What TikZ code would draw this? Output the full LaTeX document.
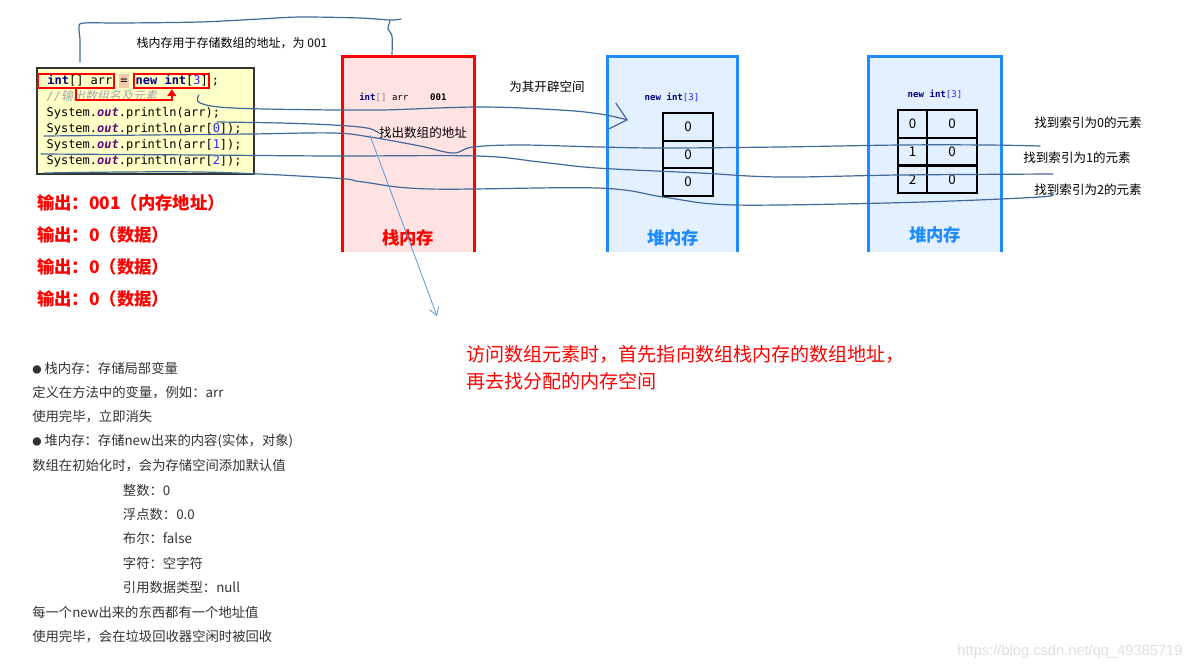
\documentclass[tikz,border=0pt]{standalone}
\usepackage{fontspec}
\setmainfont{Noto Sans CJK SC}
\setsansfont{Liberation Sans}
\setmonofont{DejaVu Sans Mono}
\newfontfamily\cjkslant[FakeSlant=0.2]{Noto Sans CJK SC}
\usepackage{xcolor}
\definecolor{pen}{RGB}{65,105,155}
\definecolor{hint}{RGB}{91,155,213}
\definecolor{stackred}{RGB}{255,0,0}
\definecolor{stackfill}{RGB}{255,226,226}
\definecolor{heapblue}{RGB}{30,140,255}
\definecolor{heapfill}{RGB}{226,240,255}
\definecolor{codefill}{RGB}{255,255,200}
\definecolor{kwcol}{RGB}{0,0,128}
\definecolor{fldcol}{RGB}{102,14,122}
\definecolor{nmcol}{RGB}{40,40,255}
\definecolor{peach}{RGB}{250,200,170}
\newcommand{\kw}[1]{\textcolor{kwcol}{\textbf{#1}}}
\newcommand{\fld}[1]{\textcolor{fldcol}{\textbf{\textit{#1}}}}
\newcommand{\nm}[1]{\textcolor{nmcol}{#1}}
\newcommand{\dotmark}{{\fontsize{7}{8}\selectfont ●}\ }
\usepackage{tikz}
\usetikzlibrary{arrows.meta,positioning,calc}

\begin{document}
\begin{tikzpicture}[x=0.75pt, y=-0.75pt,
  every node/.style={inner sep=0pt},
  codebox/.style={draw=black!80, line width=1.5pt, fill=codefill,
                  minimum width=162.75pt, minimum height=79.5pt},
  codeln/.style={font=\ttfamily\fontsize{9}{11}\selectfont, inner sep=1pt,
                 text height=7pt, text depth=2pt, anchor=west},
  smallcode/.style={font=\ttfamily\fontsize{6.8}{8}\selectfont},
  redbox/.style={draw=red, line width=1.6pt},
  outtxt/.style={font=\bfseries\fontsize{13}{15}\selectfont, text=red, anchor=west},
  mem/.style={minimum width=#1, minimum height=146.25pt},
  memlbl/.style={font=\bfseries\fontsize{13}{15}\selectfont},
  cell/.style={draw, line width=1.5pt, minimum width=37.5pt, minimum height=20.6pt,
               font=\fontsize{10}{12}\selectfont},
  lbl/.style={font=\fontsize{9.4}{11}\selectfont},
  remark/.style={font=\fontsize{14.3}{16}\selectfont, text=red, anchor=west},
  memo/.style={font=\fontsize{10}{12}\selectfont, text=black!80, anchor=west},
  hand/.style={pen, line width=0.9pt, line cap=round},
  thinarr/.style={hint, line width=0.6pt, -{Straight Barb[length=2mm, width=2.5mm]}}
]
\fill[white] (0,0) rectangle (1196,671);
\useasboundingbox (0,0) rectangle (1196,671);

\node[codebox] (code) at (145.5,121) {};
\node[codeln, redbox] (decl) at (37,81) {\hspace{6pt}\kw{int}[] arr};
\node[codeln, fill=peach, right=3pt of decl] (eq) {=};
\node[codeln, redbox, right=3pt of eq] (alloc) {\kw{new} \kw{int}[\nm{3}]};
\node[codeln, right=0pt of alloc] (semi) {;};
\node[codeln, text=gray!70] (cmt) at (45,97) {{\itshape //}{\cjkslant\fontsize{9}{11}\selectfont 输出数组名及元素}};
\node[codeln] (pa) at (45,113) {System.\fld{out}.println(arr);};
\foreach \i in {0,1,2}
  \node[codeln] (pe\i) at (45,129+16*\i) {System.\fld{out}.println(arr[\nm{\i}]);};
\draw[red, line width=1.6pt, -{Triangle[length=1.8mm, width=2.4mm]}]
  (decl.south) -- ++(0,11) -| (alloc.south);

\foreach \t [count=\i] in {{001（内存地址）},{0（数据）},{0（数据）},{0（数据）}}
  \node[outtxt] (out\i) at (37,171+32*\i) {输出：\t};

\node[mem=98.25pt, fill=stackfill] (stack) at (408.5,154.5) {};
\draw[stackred, line width=2.2pt] (stack.south west) |- (stack.north east) -- (stack.south east);
\node[smallcode, anchor=west] (slot) at (359,97) {\kw{int}\textcolor{gray}{[]} arr\ \ \ \ \textbf{001}};
\node[lbl] (addr) at (423,133) {找出数组的地址};
\node[memlbl, text=stackred] (stacklbl) at (408,238) {栈内存};

\node[mem=96.75pt, fill=heapfill] (heapa) at (672.5,154.5) {};
\draw[heapblue, line width=2.2pt] (heapa.south west) |- (heapa.north east) -- (heapa.south east);
\node[smallcode] (newa) at (672,97) {\kw{new} \kw{int}\nm{[3]}};
\foreach \i in {0,1,2}
  \node[cell] (ca\i) at (688,127+27.5*\i) {0};
\node[memlbl, text=heapblue] (heapalbl) at (673,238) {堆内存};
\node[lbl] (alloclbl) at (547,87) {为其开辟空间};

\node[mem=99pt, fill=heapfill] (heapb) at (935,154.5) {};
\draw[heapblue, line width=2.2pt] (heapb.south west) |- (heapb.north east) -- (heapb.south east);
\node[smallcode] (newb) at (935,94) {\kw{new} \kw{int}\nm{[3]}};
\foreach \i in {0,1,2} {
  \node[cell, minimum width=21.75pt] (kb\i) at (912.5,124+27.7*\i) {\i};
  \node[cell] (vb\i) at (952,124+27.7*\i) {0};
}
\node[memlbl, text=heapblue] (heapblbl) at (935,235) {堆内存};

\node[lbl] (find0) at (1088,123) {找到索引为0的元素};
\node[lbl] (find1) at (1077,158) {找到索引为1的元素};
\node[lbl] (find2) at (1088,190) {找到索引为2的元素};

\node[font=\fontsize{9}{11}\selectfont] (stacknote) at (232,43) {栈内存用于存储数组的地址，为 001};
\coordinate (bl) at (80,62);
\coordinate (br) at (392,55);
\draw[hand] plot[smooth, tension=0.5] coordinates {(bl) (80,40) (79,27) (84,23) (123,23) (200,22) (260,19) (300,17) (360,18) (390,20) (401,19)};
\draw[hand] plot[smooth, tension=0.5] coordinates {(390,21) (388,29) (392,36) (br)};

\coordinate (ha) at (199,95);
\draw[hand, -{Straight Barb[length=4mm, width=7mm]}] plot[smooth, tension=0.6] coordinates
  {(ha) (200,103) (233,108) (333,110) (383,110) (480,107) (560,110) (600,114) (628,120)};
\coordinate (hb) at (217,122);
\draw[hand] plot[smooth, tension=0.6] coordinates {(hb) (280,123) (333,125) (367,128) (addr.west)};
\coordinate (hc) at (44,136);
\coordinate (hcend) at (1040,146);
\draw[hand] plot[smooth, tension=0.6] coordinates
  {(hc) (150,135) (250,134) (333,133) (370,137) (420,146) (453,153) (473,147) (520,145) (600,147) (663,148) (780,147) (900,145) (987,145) (hcend)};
\coordinate (hd) at (41,154);
\coordinate (hdend) at (1053,174);
\draw[hand] plot[smooth, tension=0.6] coordinates
  {(hd) (200,155) (333,156) (477,156) (540,162) (597,168) (700,173) (780,177) (900,175) (hdend)};
\coordinate (he) at (44,173);
\coordinate (heend) at (1050,194);
\draw[hand] plot[smooth, tension=0.6] coordinates
  {(he) (200,172) (333,178) (363,182) (430,189) (597,188) (663,197) (713,204) (780,205) (923,202) (1040,197) (heend)};

\coordinate (hintend) at (437,316);
\draw[thinarr] (addr.west) ++(-9,2) -- (hintend);

\node[remark] (memo1) at (466,354) {访问数组元素时，首先指向数组栈内存的数组地址，};
\node[remark] (memo2) at (466,381) {再去找分配的内存空间};

\foreach \t [count=\i from 0] in {
  {\dotmark 栈内存：存储局部变量},
  {定义在方法中的变量，例如：arr},
  {使用完毕，立即消失},
  {\dotmark 堆内存：存储new出来的内容(实体，对象)},
  {数组在初始化时，会为存储空间添加默认值},
  {\hspace*{68pt}整数：0},
  {\hspace*{68pt}浮点数：0.0},
  {\hspace*{68pt}布尔：false},
  {\hspace*{68pt}字符：空字符},
  {\hspace*{68pt}引用数据类型：null},
  {每一个new出来的东西都有一个地址值},
  {使用完毕，会在垃圾回收器空闲时被回收}}
  \node[memo] (m\i) at (32,368+24.4*\i) {\t};

\node[font=\sffamily\fontsize{11}{13}\selectfont, text=black!12] (mark) at (1070,652) {https://blog.csdn.net/qq\_49385719};
\end{tikzpicture}
\end{document}
